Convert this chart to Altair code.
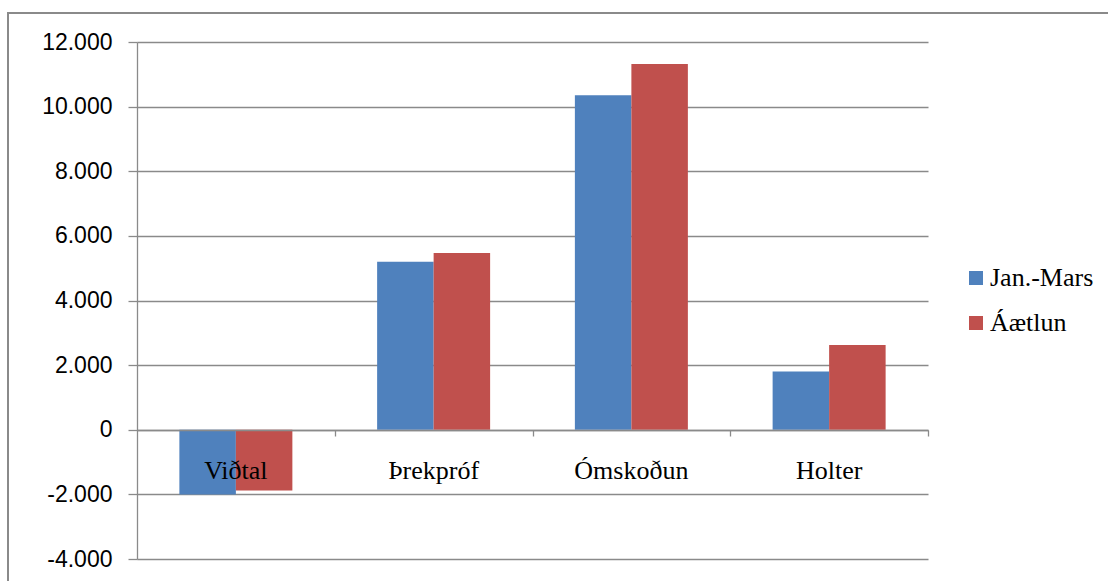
import altair as alt
import pandas as pd

categories = ["Viðtal", "Þrekpróf", "Ómskoðun", "Holter"]
series = ["Jan.-Mars", "Áætlun"]
jan_mars = [-2000, 5200, 10350, 1800]
aaetlun = [-1880, 5470, 11320, 2620]
colors = ["#4F81BD", "#C0504D"]
y_ticks = [-4000, -2000, 0, 2000, 4000, 6000, 8000, 10000, 12000]

rows = []
for i, c in enumerate(categories):
    rows.append({"cat": c, "series": series[0], "value": jan_mars[i]})
    rows.append({"cat": c, "series": series[1], "value": aaetlun[i]})
df = pd.DataFrame(rows)

GRAY = "#8a8a8a"
W, H = 791, 517
AXIS_OFFSET = -129  # x axis sits on the zero line
SERIF = "Liberation Serif"

yenc = alt.Y(
    "value:Q",
    scale=alt.Scale(domain=[-4000, 12000], nice=False, zero=False),
    axis=alt.Axis(
        values=y_ticks,
        title=None,
        labelExpr="(datum.value < 0 ? '-' : '') + replace(format(abs(datum.value), ','), ',', '.')",
        labelFont="Liberation Sans",
        labelFontSize=23,
        labelColor="black",
        labelPadding=16,
        tickSize=9,
        tickColor=GRAY,
        tickWidth=1.3,
        domainColor=GRAY,
        domainWidth=1.3,
        gridColor=GRAY,
        gridWidth=1.3,
        grid=True,
    ),
)

bars = alt.Chart(df).mark_bar(strokeWidth=0).encode(
    x=alt.X(
        "cat:N",
        sort=categories,
        scale=alt.Scale(paddingInner=0.4286, paddingOuter=0.2143),
        axis=alt.Axis(
            title=None,
            orient="bottom",
            offset=AXIS_OFFSET,
            ticks=False,
            labelAngle=0,
            labelFont=SERIF,
            labelFontSize=26,
            labelColor="black",
            labelBaseline="middle",
            labelPadding=40,
            domainColor=GRAY,
            domainWidth=1.3,
            grid=False,
            zindex=1,
        ),
    ),
    xOffset=alt.XOffset("series:N", sort=series, scale=alt.Scale(paddingInner=0, paddingOuter=0)),
    y=yenc,
    color=alt.Color(
        "series:N",
        sort=series,
        scale=alt.Scale(domain=series, range=colors),
        legend=alt.Legend(
            title=None,
            orient="none",
            legendX=826,
            legendY=223,
            padding=0,
            symbolType="square",
            symbolSize=196,
            symbolStrokeWidth=0,
            labelFont=SERIF,
            labelFontSize=26,
            labelColor="black",
            labelOffset=1,
            rowPadding=19,
        ),
    ),
)

tick_df = pd.DataFrame({"b": [0, 4]})
ticks = alt.Chart(tick_df).mark_point(opacity=0).encode(
    x=alt.X(
        "b:Q",
        scale=alt.Scale(domain=[0, 4], nice=False),
        axis=alt.Axis(
            title=None,
            orient="bottom",
            offset=AXIS_OFFSET,
            values=[1, 2, 3, 4],
            labels=False,
            domain=False,
            grid=False,
            ticks=True,
            tickSize=6,
            tickColor=GRAY,
            tickWidth=1.3,
        ),
    ),
)

frame_df = pd.DataFrame({"f": [1]})
frame = alt.Chart(frame_df).mark_rect(fillOpacity=0, stroke=GRAY, strokeWidth=2).encode(
    x=alt.value(-129), x2=alt.value(1100), y=alt.value(-29), y2=alt.value(700)
)

chart = (
    alt.layer(frame, bars, ticks)
    .resolve_scale(x="independent")
    .resolve_axis(x="independent")
    .properties(
        width=W,
        height=H,
        autosize=alt.AutoSizeParams(type="none"),
        padding={"left": 137, "top": 42, "right": 180, "bottom": 22},
        background="white",
    )
    .configure(font=SERIF)
    .configure_view(stroke=None)
    .configure_legend(labelFont=SERIF, labelFontSize=26, labelColor="black")
)

chart.save("out.html", embed_options={"renderer": "svg", "actions": False})
